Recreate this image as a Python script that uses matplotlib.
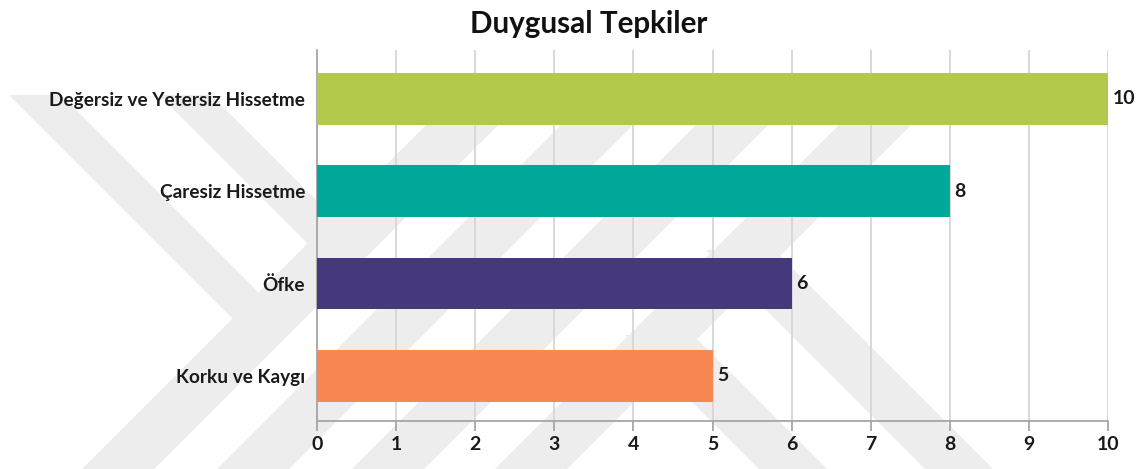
import matplotlib
matplotlib.use("Agg")
import matplotlib.pyplot as plt
from matplotlib.patches import Polygon
from matplotlib import font_manager

categories = ["Korku ve Kaygı", "Öfke", "Çaresiz Hissetme", "Değersiz ve Yetersiz Hissetme"]
values = [5, 6, 8, 10]
colors = ["#f78852", "#46397b", "#00a899", "#b3c94c"]
xticks = [0, 1, 2, 3, 4, 5, 6, 7, 8, 9, 10]
title = "Duygusal Tepkiler"

avail = {f.name for f in font_manager.fontManager.ttflist}
fam = [f for f in ["Lato", "Open Sans", "DejaVu Sans"] if f in avail]
plt.rcParams["font.family"] = fam

W, H = 1145, 469
fig = plt.figure(figsize=(W / 100, H / 100), dpi=100)
fig.patch.set_facecolor("white")

# faint background watermark (figure pixel coords, y measured from top)
WM = "#ededed"
def stripe(kind, c, y0, y1, h):
    if kind == "/":
        xa0, xa1 = c - y0, c - y1
    else:
        xa0, xa1 = c + y0, c + y1
    pts = [(xa0 - h, y0), (xa0 + h, y0), (xa1 + h, y1), (xa1 - h, y1)]
    poly = Polygon([(px / W, 1 - py / H) for px, py in pts], closed=True,
                   transform=fig.transFigure, facecolor=WM, edgecolor="none", zorder=0)
    fig.add_artist(poly)

for c in [587, 722, 857, 1000]:
    stripe("/", c, 95, 475, 36)
stripe("\\", -60, 95, 325, 26)
stripe("\\", 90, 95, 250, 26)
stripe("\\", 324, 335, 475, 34)
stripe("\\", 490, 250, 475, 34)

ax = fig.add_axes([317 / W, 1 - 421 / H, (1108 - 317) / W, (421 - 50) / H])
ax.patch.set_alpha(0)

y = list(range(len(categories)))
ax.barh(y, values, height=0.56, color=colors, zorder=3)
for yi, v in zip(y, values):
    ax.text(v + 0.06, yi, str(v), va="center", ha="left", fontsize=14,
            fontweight="bold", color="#1a1a1a")

ax.set_xlim(0, 10)
ax.set_ylim(-0.49, 3.53)
ax.set_xticks(xticks)
ax.set_xticklabels([str(t) for t in xticks], fontsize=14, fontweight="bold", color="#1a1a1a")
ax.set_yticks(y)
ylabels = ax.set_yticklabels(categories, fontsize=14, fontweight="bold", color="#1a1a1a")
ax.grid(axis="x", color="#d6d6d6", lw=1.3, zorder=0)
ax.set_axisbelow(True)
for s in ["top", "right"]:
    ax.spines[s].set_visible(False)
for s in ["left", "bottom"]:
    ax.spines[s].set_color("#a6a6a6")
    ax.spines[s].set_linewidth(1.3)
ax.tick_params(axis="x", length=7, color="#a6a6a6", width=1.3, pad=4)
ax.tick_params(axis="y", length=0, pad=8.5)

t = fig.text((470 + 708) / 2 / W, 1 - 24 / H, title, ha="center", va="center",
             fontsize=21, fontweight="bold", color="#111111")

# fit label / title sizes to the reference widths
fig.canvas.draw()
r = fig.canvas.get_renderer()
longest = ylabels[-1]
wl = longest.get_window_extent(r).width
fs = 14 * 257 / wl
for lab in ylabels:
    lab.set_fontsize(fs)
wt = t.get_window_extent(r).width
t.set_fontsize(21 * 238 / wt)

fig.savefig("out.png", dpi=100)
